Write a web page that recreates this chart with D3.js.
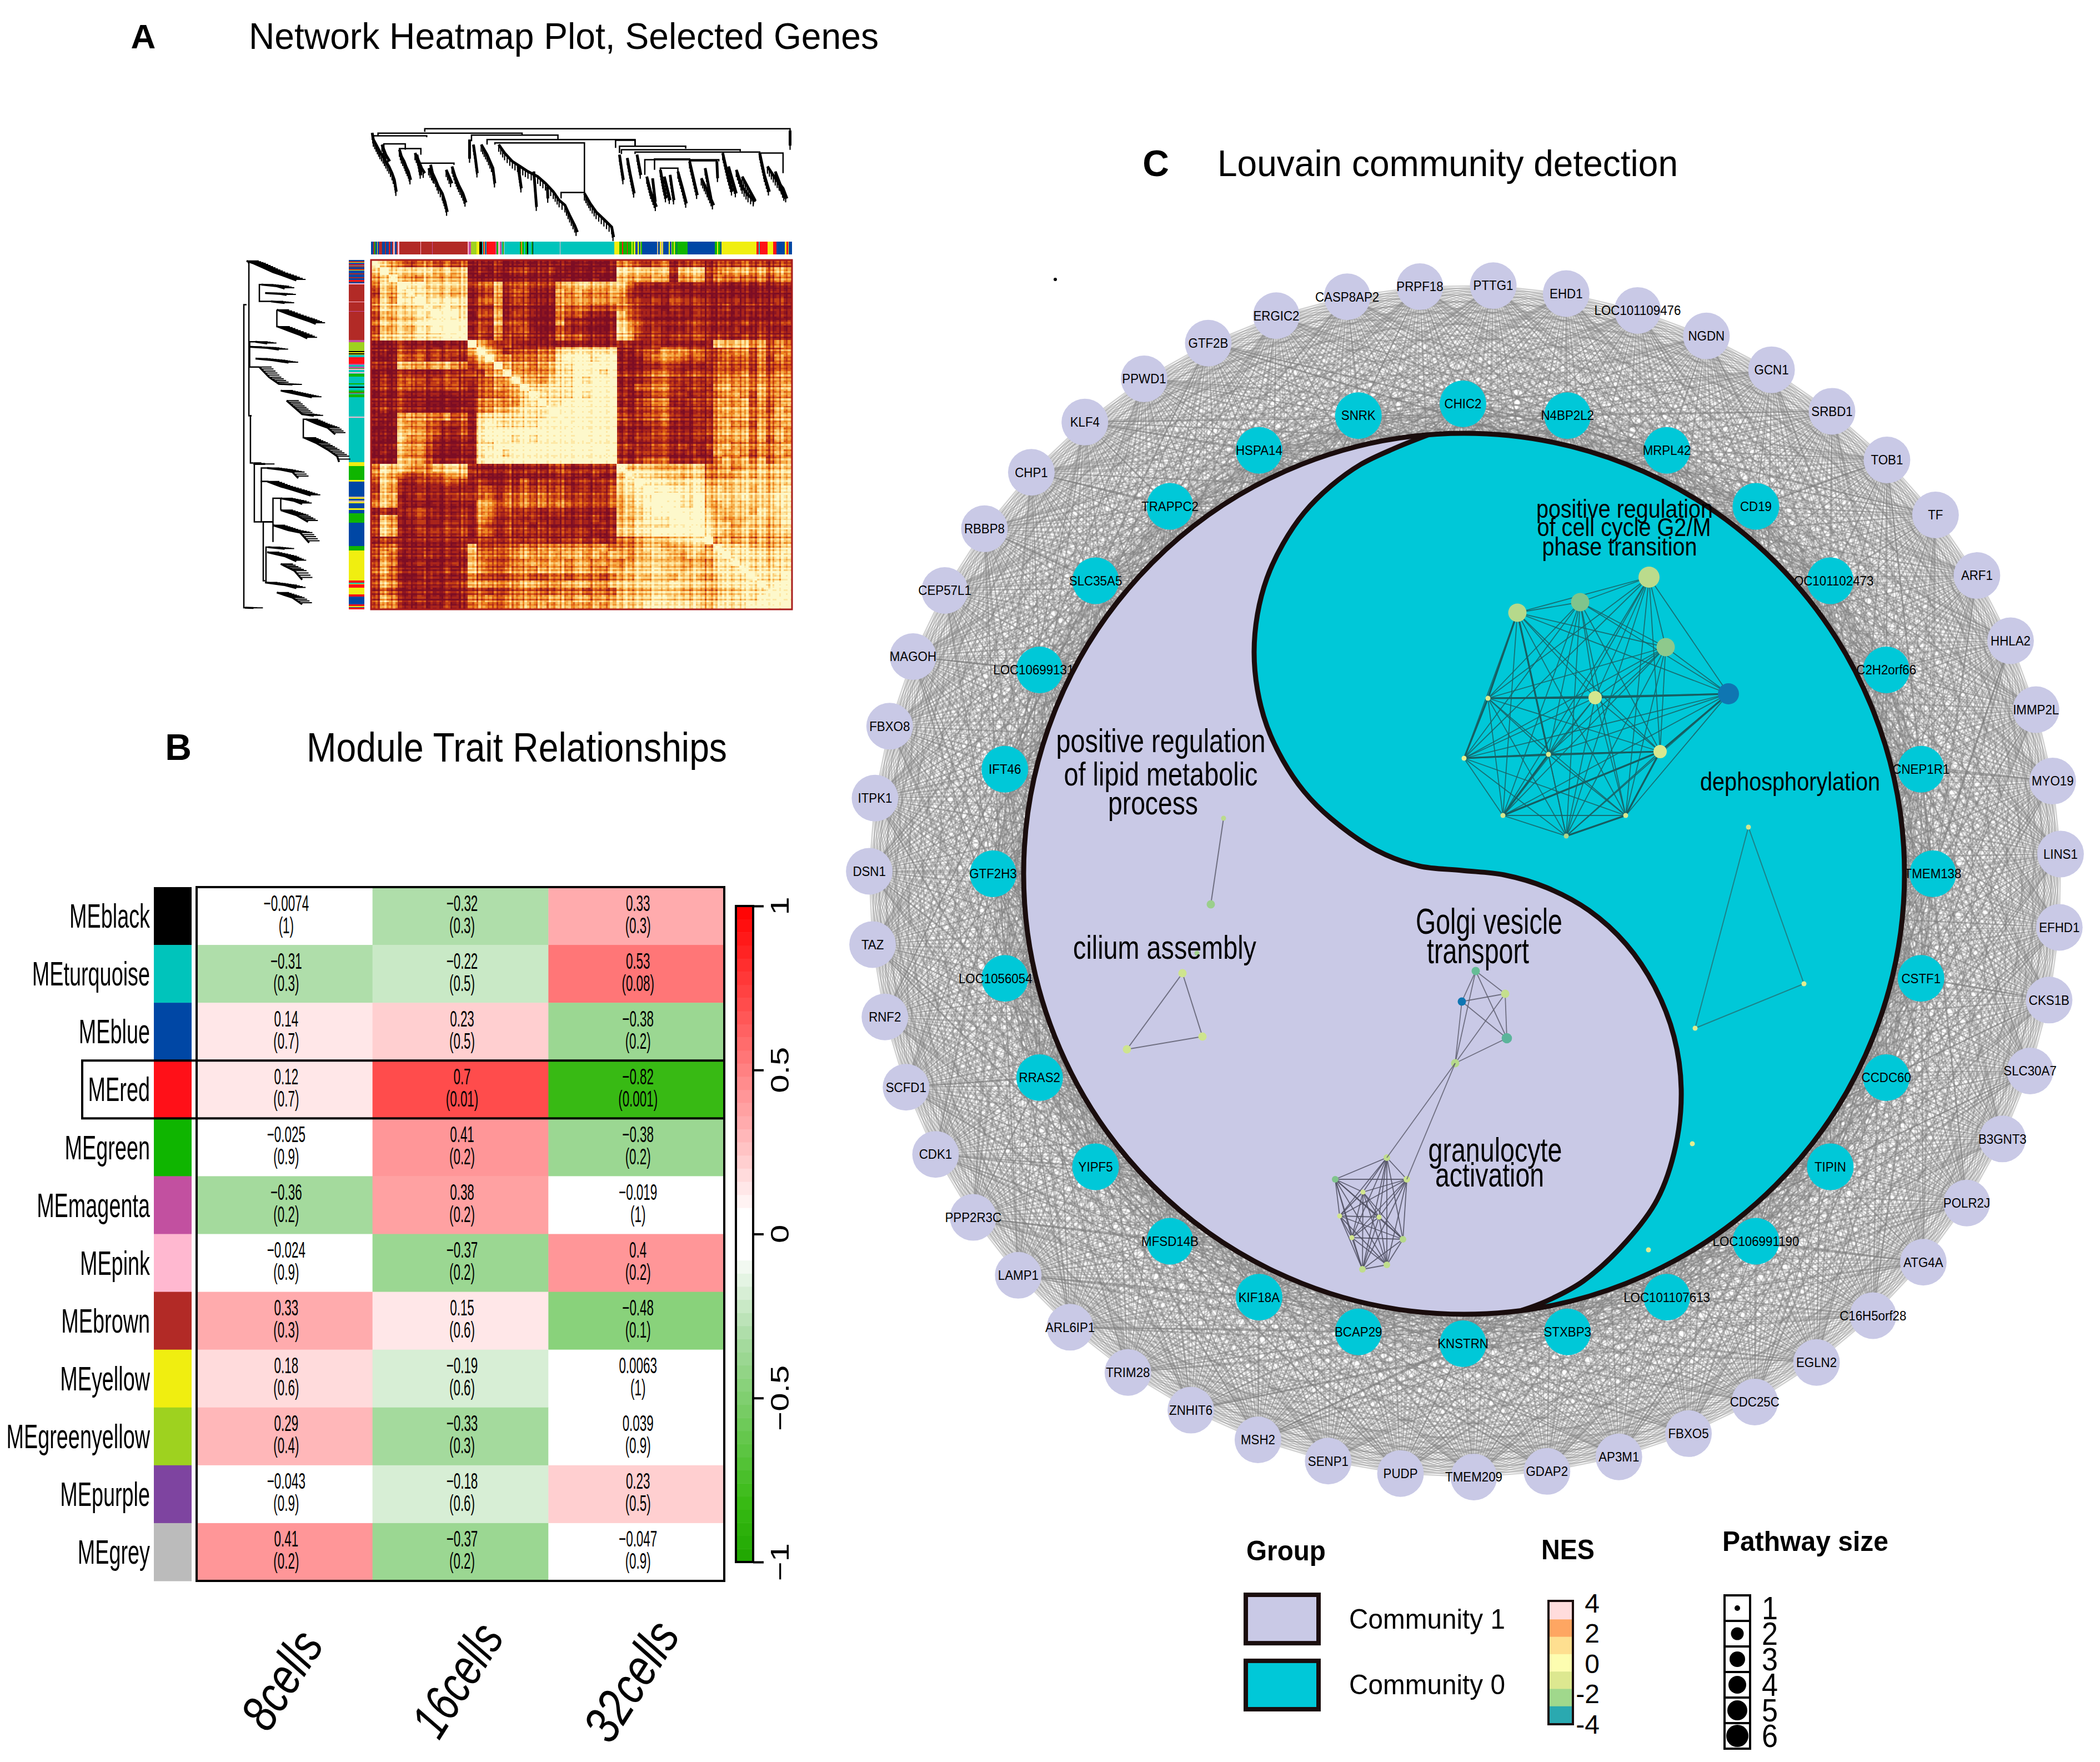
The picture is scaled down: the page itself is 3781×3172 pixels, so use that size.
<!DOCTYPE html>
<html><head><meta charset="utf-8"><style>html,body{margin:0;padding:0;background:#fff}svg{display:block}text{font-family:"Liberation Sans",Arial,sans-serif;fill:#000}</style>
<script src="https://d3js.org/d3.v7.min.js"></script></head><body><script>
// ---------- Panel B data ----------
const moduleNames=["MEblack","MEturquoise","MEblue","MEred","MEgreen","MEmagenta","MEpink","MEbrown","MEyellow","MEgreenyellow","MEpurple","MEgrey"];
const moduleColors=["#000000","#00c4bb","#0047a5","#ff1018","#0fb500","#c250a0","#ffb8d0","#b22a26","#f0ee10","#9ed21f","#7e44a0","#bbbbbb"];
const traits=["8cells","16cells","32cells"];
const corr8=["-0.0074","-0.31","0.14","0.12","-0.025","-0.36","-0.024","0.33","0.18","0.29","-0.043","0.41"];
const corr16=["-0.32","-0.22","0.23","0.7","0.41","0.38","-0.37","0.15","-0.19","-0.33","-0.18","-0.37"];
const corr32=["0.33","0.53","-0.38","-0.82","-0.38","-0.019","0.4","-0.48","0.0063","0.039","0.23","-0.047"];
const pval8=["1","0.3","0.7","0.7","0.9","0.2","0.9","0.3","0.6","0.4","0.9","0.2"];
const pval16=["0.3","0.5","0.5","0.01","0.2","0.2","0.2","0.6","0.6","0.3","0.6","0.2"];
const pval32=["0.3","0.08","0.2","0.001","0.2","1","0.2","0.1","1","0.9","0.5","0.9"];
const corrTicks=[-1,-0.5,0,0.5,1];
// ---------- Panel A data: coarse lower triangle of the TOM plot (0 dark .. 9 cream) ----------
const tomRows=["9","79","679","4769","37689","475889","5877889","36677889","476778999","3667688999","47777888999",
"101211101119","1103232323269","10143423221479","211665566542459","0102211122232569","12134323332234569",
"121332222321345569","0102111101113445679","11121100000145555789","121211000011456678889","1005655453417888888899",
"10165543223189888889999","000665431131899999999999","1007554211218999898999999","00165531001188999999999999","010655310011899899999999999","1006653101118999999999999999",
"58776557787211121121232122229","576433445662110211111221121179","3761122233212102131222112122789",
"26511111111133132323232121237889","366012111222341434343322222367889","5761110111116635454545433334678999","12112321112155232221221111116778999",
"265012111121541221211111121166788899","3760121122214313221211111121778888999","37611222223144132222222221127788999999","122011111111221221221122121144566677889",
"3451111111273334454555555564556776667759","35401121111644345655656656566566776576689","365012111217543455656656656556777776665889","4641111121275435555666566556677787767768889",
"35400121111533234433443444346676776776578889","365111111226554556655566655677777787776788889","2430111011133223444334443443666677766656778889","36511211111545355555665665657777887777678888999","355111112114543556565665565677788888876888899999"];
const tomPalette=["#7d0d24","#8f1620","#a9241b","#c23d16","#dc5f18","#ee8823","#f6ae4c","#fbcf7b","#fde8a6","#fdf8cb"];
// per-strand fine stripe offsets, 4 per coarse bin, read by eye (2 = neutral)
const tomStripes="213032412031342123021332"+"401322310243122304132213"+"041231204132021403123042"+"132041320421230412301324"+"132104231320142231034120"+"242132314223132123124213"+"301423120431204231420132"+"031421302413204123042132";
// ---------- Panel A colour bars ----------
const topBarNames="blue brown green blue yellow blue red brown blue brown blue red brown blue brown pink tan blue brown pink brown pink brown magenta brown pink magenta greenyellow yellow black turquoise red yellow blue turquoise red magenta green pink magenta turquoise green pink turquoise green red yellow green turquoise green black turquoise green black turquoise turquoise pink turquoise yellow green red green red green yellow green yellow blue yellow green blue yellow green blue blue tan blue yellow tan yellow blue yellow blue yellow green yellow green blue green green blue green yellow green blue yellow red turquoise red red yellow red blue yellow red yellow blue".split(" ");
const topBarSizes=[6,3,2,5,1,4,2,5,8,3,6,2,3,4,3,3,1,5,2,4,54,2,28,2,90,3,5,15,7,6,4,3,1,2,2,23,3,4,4,4,3,3,2,39,3,2,1,4,5,4,3,8,3,1,6,63,2,138,12,8,2,10,2,10,2,4,3,6,3,2,2,2,3,3,35,3,4,3,4,2,14,3,4,2,4,3,4,2,14,12,70,6,2,7,2,90,5,3,5,15,14,9,22,4,4,2,8];
const leftBarNames="blue brown yellow blue red turquoise brown blue brown yellow blue brown blue brown blue red brown blue pink brown pink brown magenta brown magenta greenyellow black yellow black yellow turquoise red magenta turquoise magenta green pink turquoise pink turquoise green turquoise green turquoise black turquoise green red turquoise green turquoise pink turquoise yellow green yellow blue tan yellow blue tan yellow blue yellow blue green blue green yellow red turquoise yellow red yellow red blue red yellow blue red".split(" ");
const leftBarSizes=[4,3,2,5,2,2,3,6,3,2,8,3,8,4,5,3,3,4,3,50,2,27,2,84,6,26,4,4,3,2,5,20,4,5,4,3,3,6,3,2,8,20,4,6,3,8,8,1,4,8,58,2,133,12,40,5,45,4,3,5,4,4,15,4,11,27,70,13,90,5,4,2,9,20,7,23,5,3,2,5];
const wgcnaColors={blue:"#0047a5",brown:"#b22a26",green:"#0fb500",yellow:"#f0ee10",red:"#ff1018",turquoise:"#00c4bb",black:"#000000",pink:"#ffb8d0",magenta:"#c250a0",greenyellow:"#9ed21f",tan:"#d2b48c"};
// ---------- Panel A dendrograms (readings in the picture's own units) ----------
const topClusters=[
[[385,65],[388,85],[395,100],[405,122],[413,135],[420,150],[428,165],[436,185],[442,205],[447,240]],
[[410,100],[420,130],[430,150]],[[500,130],[510,190]],[[530,170],[545,200]],[[575,175],[590,215]],
[[455,115],[460,135],[467,150],[472,165],[478,180],[484,205]],[[495,125],[505,150],[512,170],[520,185]],
[[535,160],[540,185],[548,205],[555,225],[565,245],[572,270],[578,300]],[[590,165],[598,195],[607,220],[618,245],[626,272]],
[[635,85],[635,142]],[[645,100],[650,140],[655,185]],[[665,100],[680,130],[695,170],[700,215]],
[[710,100],[725,125],[745,150],[765,165],[785,180],[810,195],[830,215],[850,240],[865,265],[880,280],[892,310],[905,340],[912,360]],
[[760,165],[768,230]],[[800,180],[807,285]],[[835,225],[836,260]],[[930,245],[945,275],[960,300],[980,322],[1000,345],[1005,375]],
[[1020,130],[1025,170],[1030,205]],[[1040,140],[1048,190],[1058,245]],[[1065,130],[1075,190]],[[1090,195],[1100,240],[1115,285]],[[1105,200],[1112,270]],
[[1125,175],[1132,220],[1140,260]],[[1135,195],[1150,265]],[[1150,190],[1155,230],[1160,265]],[[1170,180],[1182,230],[1192,275]],[[1200,150],[1210,200],[1220,250]],
[[1230,200],[1245,235],[1262,280]],[[1240,170],[1255,260]],[[1270,150],[1272,200]],[[1285,125],[1298,190],[1310,240]],[[1300,165],[1320,245]],[[1320,175],[1335,225],[1350,250],[1370,268]],[[1335,195],[1368,265]],
[[1380,125],[1392,190],[1405,240]],[[1400,165],[1420,200],[1440,230],[1450,260]],[[1420,180],[1445,255]],[[1458,58],[1458,103]]];
const topBrackets=[[520,1458,53,62,58],[400,770,66,75,72],[640,862,72,90,85],[385,525,74,80,78],[680,1060,85,100,105],[1010,1060,87,110,105],[1020,1190,105,125,112],[1025,1330,115,128,120],[1060,1380,122,128,128],[1085,1275,145,190,150],[1110,1200,143,175,150],[1200,1270,148,152,155],[415,470,98,125,115],[455,510,112,125,130],[505,595,155,160,160],[700,930,95,100,245],[870,930,242,260,248],[1125,1170,170,180,185],[1380,1440,125,140,185]];
const leftClusters=[
[[62,445],[80,452],[105,465],[130,478],[160,490],[190,503]],[[100,515],[140,520],[160,527]],[[110,540],[150,543],[165,546]],
[[125,565],[160,570]],[[140,590],[170,603],[200,615],[225,625],[240,632]],[[142,640],[170,652],[200,665],[218,675]],
[[85,685],[115,690]],[[70,700],[115,703],[145,708]],[[85,735],[130,740],[170,747]],[[95,760],[120,790],[145,810],[180,812]],
[[150,830],[190,840],[230,850]],[[165,860],[185,880],[205,900],[235,905]],[[215,915],[245,930],[270,940],[290,960]],[[210,970],[240,985],[270,1005],[295,1025],[300,1042]],
[[80,1048],[110,1048]],[[115,1060],[150,1065],[180,1072],[195,1090]],[[115,1100],[150,1115],[180,1125],[227,1142]],[[150,1150],[185,1158],[205,1167]],
[[150,1185],[190,1200],[220,1220]],[[130,1230],[170,1245],[200,1252],[223,1282]],[[118,1295],[160,1300]],[[115,1310],[160,1322],[190,1337]],
[[150,1345],[185,1365],[205,1392]],[[110,1400],[160,1408],[190,1417]],[[140,1430],[180,1445],[205,1465]],[[58,1475],[80,1476]]];
const leftBrackets=[[575,1475,55,62,60],[450,905,68,65,75],[905,1045,72,75,80],[1045,1220,82,100,100],[1100,1220,100,115,130],[1220,1395,105,130,110],[1150,1280,130,150,130],[640,590,140,142,140],[515,565,95,100,125],[915,970,208,215,210],[685,760,70,85,95],[1060,1100,100,115,115],[1150,1185,150,150,150],[1295,1400,112,118,110]];
// ---------- Panel C data ----------
const outerGenes=["PTTG1","EHD1","LOC101109476","NGDN","GCN1","SRBD1","TOB1","TF","ARF1","HHLA2","IMMP2L","MYO19","LINS1","EFHD1","CKS1B","SLC30A7","B3GNT3","POLR2J","ATG4A","C16H5orf28","EGLN2","CDC25C","FBXO5","AP3M1","GDAP2","TMEM209","PUDP","SENP1","MSH2","ZNHIT6","TRIM28","ARL6IP1","LAMP1","PPP2R3C","CDK1","SCFD1","RNF2","TAZ","DSN1","ITPK1","FBXO8","MAGOH","CEP57L1","RBBP8","CHP1","KLF4","PPWD1","GTF2B","ERGIC2","CASP8AP2","PRPF18"];
const innerGenes=["CHIC2","N4BP2L2","MRPL42","CD19","LOC101102473","C2H2orf66","CNEP1R1","TMEM138","CSTF1","CCDC60","TIPIN","LOC106991190","LOC101107613","STXBP3","KNSTRN","BCAP29","KIF18A","MFSD14B","YIPF5","RRAS2","LOC1056054","GTF2H3","IFT46","LOC10699131","SLC35A5","TRAPPC2","HSPA14","SNRK"];
const labelNudge={LOC1056054:-17,LOC10699131:-11};
const heavyEdges=[["KLF4","HSPA14"],["CHP1","TRAPPC2"],["GTF2B","CD19"],["MAGOH","LOC10699131"],["RBBP8","SLC35A5"],["MSH2","KNSTRN"],["ZNHIT6","STXBP3"],["PPP2R3C","MFSD14B"],["LAMP1","KIF18A"],["ARL6IP1","BCAP29"],["TOB1","CD19"],["MYO19","CNEP1R1"],["CKS1B","CSTF1"],["HHLA2","TMEM138"],["ATG4A","LOC106991190"],["CDK1","YIPF5"],["SCFD1","RRAS2"]];
const communityNames=["Community 1","Community 0"];
const nesBins=[[3,"#ffdcdc"],[2,"#fea662"],[1,"#fedf90"],[0,"#fdfdb0"],[-1,"#dde890"],[-2,"#a0d88c"],[-3,"#2aa9b0"]];
const nesTicks=[4,2,0,-2,-4];
const pathwaySizes=[1,2,3,4,5,6];
// Enrichment map nodes: [layout x, layout y, NES, size]
const g2mNodes=[[2732,1103,-1.2,4],[2845,1084,-2,4],[2969,1039,-1.1,5],[2999,1165,-1.8,4],[3112,1249,-4.2,5],[2872,1256,-0.6,3],[2679,1257,-0.3,1],[2636,1365,0,1],[2788,1358,-0.4,1],[2989,1353,-0.5,3],[2706,1468,-0.5,1],[2820,1505,-1.3,1],[2927,1468,-0.5,1]];
const g2mBold=[[0,6],[6,5],[5,4],[6,7],[7,8],[8,9],[9,4],[8,10],[0,8],[10,9],[9,12],[12,11]];
const dephosNodes=[[3148,1489,-0.6,1],[3248,1771,-0.2,1],[3052,1851,-0.3,1]];
const loneNodes=[[3047,2059,-0.1,1],[2968,2250,-0.2,1],[2155,1716,-1.5,1]];
const lipidNodes=[[2203,1473,-1.1,1],[2180,1628,-1.6,2]];
const ciliumNodes=[[2129,1752,-0.7,2],[2165,1866,-0.7,2],[2029,1889,-0.7,2]];
const golgiNodes=[[2657,1748,-2.6,2],[2710,1789,-0.9,2],[2632,1803,-4.2,2],[2713,1869,-2.8,2.4],[2620,1914,-1.2,2]];
const granuloNodes=[[2497,2084,-1,1.6],[2404,2123,-2,1.6],[2533,2123,-0.8,1.6],[2454,2146,-0.6,1],[2412,2189,-0.6,1],[2483,2191,-0.6,1],[2434,2228,-0.6,1],[2526,2231,-1.2,1.6],[2453,2285,-1,1.6],[2497,2277,-1,1.6]];
const golgiLinks=[[4,0],[4,1],[4,2],[4,3],[0,1],[0,2],[0,3],[1,2],[1,3],[2,3]];
const bridgeLinks=[[4,0],[4,2]];
const sCurve=[[2572,782.6],[2511,807],[2450,836],[2396,875],[2348,923],[2310,979],[2281,1041],[2264,1106],[2258,1174],[2264,1242],[2281,1307],[2310,1369],[2348,1425],[2396,1473],[2479,1531],[2555,1559],[2632,1567],[2708,1575],[2785,1598],[2861,1639],[2928,1700],[2979,1776],[3014,1866],[3027,1961],[3017,2063],[2984,2159],[2928,2235],[2851,2306],[2785,2342],[2739,2359.3]];
const captions=[["positive regulation",2090,1333,377,60],["of lipid metabolic",2090,1393,349,60],["process",2076,1445,162,60],
["positive regulation",2925,916,318,46],["of cell cycle G2/M",2924,949,313,46],["phase transition",2916,984,279,46],
["dephosphorylation",3223,1407,324,46],["Golgi vesicle",2681,1659,264,64],["transport",2661,1712,184,64],
["cilium assembly",2097,1705,330,60],["granulocyte",2692,2069,241,62],["activation",2682,2114,196,62]];

// ---------- page ----------
const W=3781,H=3172;
const svg=d3.select("body").append("svg").attr("width",W).attr("height",H).attr("viewBox",[0,0,W,H]);
function label(g,s,x,y,o={}){
 const t=g.append("text").text(s).attr("font-size",o.size||40).attr("text-anchor",o.anchor||"middle").attr("dominant-baseline","central")
  .attr("font-weight",o.weight||"normal").attr("font-style",o.style||"normal");
 if(o.sx||o.rot!==undefined){t.attr("transform",`translate(${x},${y}) rotate(${o.rot||0}) scale(${o.sx||1},1)`);}else{t.attr("x",x).attr("y",y);}
 if(o.w){t.attr("textLength",o.w).attr("lengthAdjust","spacingAndGlyphs");}
 return t;
}
const titles=svg.append("g");
label(titles,"A",258,65,{size:62,weight:"bold"});
label(titles,"Network Heatmap Plot, Selected Genes",448,65,{size:66,anchor:"start",w:1134});
label(titles,"B",321,1345,{size:66,weight:"bold"});
label(titles,"Module Trait Relationships",552,1345,{size:74,anchor:"start",w:757});
label(titles,"C",2081,294,{size:66,weight:"bold"});
label(titles,"Louvain community detection",2192,294,{size:66,anchor:"start",w:829});
svg.append("circle").attr("cx",1900).attr("cy",503).attr("r",3).attr("fill","#000");

// ---------- Panel A heat map ----------
const nFine=tomStripes.length, nCoarse=tomRows.length, k=nFine/nCoarse;
const hx=d3.scaleBand(d3.range(nFine),[668,1426]), hy=d3.scaleBand(d3.range(nFine),[468,1097]);
const stripe=d3.scaleLinear([0,4],[-1.3,1.3]);
const coarse=(i,j)=>{const a=Math.max(i,j),b=Math.min(i,j);return +(tomRows[a][b]||"5");};
const tomColor=d3.scaleQuantize([-0.5,9.5],tomPalette);
const paths=new Map(tomPalette.map(c=>[c,d3.path()]));
for(let r=0;r<nFine;r++)for(let c=0;c<nFine;c++){
 const base=coarse(Math.floor(r/k),Math.floor(c/k));
 const wob=stripe(+tomStripes[r])+stripe(+tomStripes[c]);
 let v=base+(base<9?wob:wob*0.4);
 if(r===c)v=9.4;
 paths.get(tomColor(Math.max(-0.4,Math.min(9.4,v)))).rect(hx(c),hy(r),hx.bandwidth()+0.5,hy.bandwidth()+0.5);
}
svg.append("g").attr("shape-rendering","crispEdges").selectAll("path").data(tomPalette).join("path").attr("fill",d=>d).attr("d",d=>paths.get(d).toString());
svg.append("rect").attr("x",668).attr("y",468).attr("width",758).attr("height",629).attr("fill","none").attr("stroke","#a81c1c").attr("stroke-width",3);
function stack(names,sizes){let acc=0;return names.map((n,i)=>{const s=acc;acc+=sizes[i]||0;return {n,s,e:acc};});}
const topStack=stack(topBarNames,topBarSizes), leftStack=stack(leftBarNames,leftBarSizes);
const tbx=d3.scaleLinear([0,topStack[topStack.length-1].e],[668,1426]), lby=d3.scaleLinear([0,leftStack[leftStack.length-1].e],[468,1097]);
svg.append("g").attr("shape-rendering","crispEdges").selectAll("rect").data(topStack).join("rect").attr("x",d=>tbx(d.s)).attr("width",d=>tbx(d.e)-tbx(d.s)).attr("y",435).attr("height",23).attr("fill",d=>wgcnaColors[d.n]);
svg.append("g").attr("shape-rendering","crispEdges").selectAll("rect").data(leftStack).join("rect").attr("y",d=>lby(d.s)).attr("height",d=>lby(d.e)-lby(d.s)).attr("x",628).attr("width",28).attr("fill",d=>wgcnaColors[d.n]);
const tdx=d3.scaleLinear([382,1463],[668,1426]), tdy=d3.scaleLinear([50,375],[230,427]);
const ldx=d3.scaleLinear([55,315],[439,621]), ldy=d3.scaleLinear([442,1480],[468,1097]);
// leaf comb: short hairs hung on every trunk, drawn along the read polyline
function comb(pts,dx,dy,step){
 const p=d3.path();
 for(let i=1;i<pts.length;i++){
  const [x0,y0]=pts[i-1],[x1,y1]=pts[i],len=Math.hypot(x1-x0,y1-y0),n=Math.max(1,Math.round(len/step));
  for(let s=0;s<n;s++){const x=x0+(x1-x0)*s/n,y=y0+(y1-y0)*s/n;p.moveTo(x,y);p.lineTo(x+dx,y+dy);}
 }
 return p.toString();
}
const topG=svg.append("g").attr("fill","none").attr("stroke","#000");
const lineT=d3.line().x(d=>tdx(d[0])).y(d=>tdy(d[1]));
topG.selectAll("path.c").data(topClusters).join("path").attr("class","c").attr("d",lineT).attr("stroke-width",5);
topG.selectAll("path.h").data(topClusters).join("path").attr("class","h").attr("stroke-width",2.2).attr("d",d=>comb(d.map(p=>[tdx(p[0]),tdy(p[1])]),0,13,6));
topG.selectAll("path.b").data(topBrackets).join("path").attr("class","b").attr("stroke-width",2.5)
 .attr("d",d=>`M${tdx(d[0])},${tdy(d[3])}V${tdy(d[2])}H${tdx(d[1])}V${tdy(d[4])}`);
const leftG=svg.append("g").attr("fill","none").attr("stroke","#000");
const lineL=d3.line().x(d=>ldx(d[0])).y(d=>ldy(d[1]));
leftG.selectAll("path.c").data(leftClusters).join("path").attr("class","c").attr("d",lineL).attr("stroke-width",3.5);
leftG.selectAll("path.h").data(leftClusters).join("path").attr("class","h").attr("stroke-width",2).attr("d",d=>comb(d.map(p=>[ldx(p[0]),ldy(p[1])]),22,0,5));
leftG.selectAll("path.b").data(leftBrackets).join("path").attr("class","b").attr("stroke-width",2.5)
 .attr("d",d=>`M${ldx(d[3])},${ldy(d[0])}H${ldx(d[2])}V${ldy(d[1])}H${ldx(d[4])}`);

// ---------- Panel B ----------
const bx=d3.scaleBand(traits,[354,1304]), by=d3.scaleBand(moduleNames,[1597,2846]);
const corrRamp=d3.scaleLinear([-1,-0.82,-0.32,-0.06,0.06,0.33,0.7,1],["#1fa600","#38ba14","#a8dba3","#ffffff","#ffffff","#ffaeb0","#ff4c4c","#ff0000"]);
const corrBins=d3.scaleQuantize([-1,1],d3.range(50).map(i=>corrRamp(-1+(i+0.5)/25)));
const tb=svg.append("g");
const corrCols=[corr8,corr16,corr32], pCols=[pval8,pval16,pval32];
moduleNames.forEach((m,i)=>{
 tb.append("rect").attr("x",277).attr("width",68).attr("y",by(m)).attr("height",by.bandwidth()+.5).attr("fill",moduleColors[i]);
 label(tb,m,270,by(m)+by.bandwidth()/2,{size:62,anchor:"end",sx:0.61});
 traits.forEach((t,c)=>{
  const v=corrCols[c][i];
  tb.append("rect").attr("x",bx(t)).attr("y",by(m)).attr("width",bx.bandwidth()+.5).attr("height",by.bandwidth()+.5).attr("fill",corrBins(+v));
  const cx=bx(t)+bx.bandwidth()/2+3;
  label(tb,v.replace("-","\u2212"),cx,by(m)+29,{size:40,sx:0.56});
  label(tb,"("+pCols[c][i]+")",cx,by(m)+69,{size:40,sx:0.56});
 });
});
tb.append("rect").attr("x",354).attr("y",1597).attr("width",950).attr("height",1249).attr("fill","none").attr("stroke","#000").attr("stroke-width",4);
tb.append("rect").attr("x",148).attr("y",by("MEred")).attr("width",1156).attr("height",by.bandwidth()).attr("fill","none").attr("stroke","#000").attr("stroke-width",4);
const traitLabelPos=[[507,3024,190],[823,3024,222],[1136,3026,236]];
traits.forEach((t,i)=>label(tb,t,traitLabelPos[i][0],traitLabelPos[i][1],{size:92,style:"italic",rot:-57.5,w:traitLabelPos[i][2]}));
const cy=d3.scaleLinear([-1,1],[2812,1631]);
const barG=svg.append("g");
barG.selectAll("rect").data(d3.range(50)).join("rect").attr("x",1325).attr("width",31).attr("y",i=>cy(-1+(i+1)/25)).attr("height",(cy(-1)-cy(1))/50+.5).attr("fill",i=>corrBins(-1+(i+.5)/25));
barG.append("rect").attr("x",1325).attr("y",1631).attr("width",31).attr("height",1181).attr("fill","none").attr("stroke","#000").attr("stroke-width",4);
const ax=barG.append("g").attr("transform","translate(1356,0)").call(d3.axisRight(cy).tickValues(corrTicks).tickSize(19).tickFormat(""));
ax.selectAll("line").attr("stroke","#000").attr("stroke-width",4);
ax.select(".domain").remove();
corrTicks.forEach(v=>label(barG,String(v).replace("-","\u2212"),1404,cy(v),{size:46,rot:-90,sx:1.3}));

// ---------- Panel C ring network ----------
const net=svg.append("g");
const outerAngle=d3.scaleLinear([0,outerGenes.length],[2.7,362.7]);
const innerAngle=d3.scaleLinear([0,innerGenes.length],[0,360]);
const polar=(cx,cy0,r,a)=>[cx+r*Math.sin(a*Math.PI/180),cy0-r*Math.cos(a*Math.PI/180)];
const outerNodes=outerGenes.map((g,i)=>{const p=polar(2638,1586,1073,outerAngle(i));return {g,x:p[0],y:p[1],fill:"#c9c9e6"};});
const innerNodes=innerGenes.map((g,i)=>{const p=polar(2634,1573,846,innerAngle(i));return {g,x:p[0],y:p[1],fill:"#00c8d8"};});
const ring=outerNodes.concat(innerNodes);
const allPairs=a=>{const o=[];for(let i=0;i<a.length;i++)for(let j=i+1;j<a.length;j++)o.push([a[i],a[j]]);return o;};
net.append("g").attr("stroke","#808080").attr("stroke-opacity",0.36).attr("stroke-width",2.4).selectAll("line").data(allPairs(ring)).join("line")
 .attr("x1",d=>d[0].x).attr("y1",d=>d[0].y).attr("x2",d=>d[1].x).attr("y2",d=>d[1].y);
const byGene=new Map(ring.map(n=>[n.g,n]));
net.append("g").attr("stroke","#777").attr("stroke-opacity",0.35).attr("stroke-width",3.5).selectAll("line").data(heavyEdges).join("line")
 .attr("x1",d=>byGene.get(d[0]).x).attr("y1",d=>byGene.get(d[0]).y).attr("x2",d=>byGene.get(d[1]).x).attr("y2",d=>byGene.get(d[1]).y);
net.append("g").selectAll("circle").data(ring).join("circle").attr("cx",d=>d.x).attr("cy",d=>d.y).attr("r",42).attr("fill",d=>d.fill);
ring.forEach(d=>label(net,d.g,d.x+(labelNudge[d.g]||0),d.y,{size:24,sx:0.93}));
const C={x:2636,y:1573,r:793};
net.append("circle").attr("cx",C.x).attr("cy",C.y).attr("r",C.r).attr("fill","#c9c9e6");
const sPath=d3.line().curve(d3.curveCatmullRom.alpha(0.5))(sCurve);
const tip1=sCurve[0], tip2=sCurve[sCurve.length-1];
net.append("path").attr("d",`M${tip2} A${C.r},${C.r} 0 0 0 ${tip1} `+sPath.replace(/^M[^C]*/,"")).attr("fill","#00c8d8");
net.append("path").attr("d",sPath).attr("fill","none").attr("stroke","#1a0d0d").attr("stroke-width",9);
net.append("circle").attr("cx",C.x).attr("cy",C.y).attr("r",C.r).attr("fill","none").attr("stroke","#1a0d0d").attr("stroke-width",9);
const nesFill=d3.scaleLinear([-4.2,-2.6,-2,-1.2,-0.5,0],["#0f76b2","#66bd96","#80c48c","#b6d98b","#d8e88f","#e8f090"]);
const rScale=d3.scaleLinear([1,1.6,2,3,4,5],[4.5,6,7.5,12,16.5,19]);
function cluster(nodes,links,color,w){
 const g=net.append("g");
 g.selectAll("line").data(links).join("line").attr("x1",d=>d[0][0]).attr("y1",d=>d[0][1]).attr("x2",d=>d[1][0]).attr("y2",d=>d[1][1]).attr("stroke",color).attr("stroke-width",w).attr("stroke-opacity",0.85);
 g.selectAll("circle").data(nodes).join("circle").attr("cx",d=>d[0]).attr("cy",d=>d[1]).attr("r",d=>rScale(d[3])).attr("fill",d=>nesFill(d[2]));
}
net.append("g").attr("stroke","#14565a").attr("stroke-width",3.2).selectAll("line").data(g2mBold).join("line")
 .attr("x1",d=>g2mNodes[d[0]][0]).attr("y1",d=>g2mNodes[d[0]][1]).attr("x2",d=>g2mNodes[d[1]][0]).attr("y2",d=>g2mNodes[d[1]][1]);
cluster(g2mNodes,allPairs(g2mNodes),"#1a5f63",1.8);
cluster(dephosNodes,allPairs(dephosNodes),"#21757a",2);
cluster(loneNodes,[],"#000",1);
cluster(lipidNodes,allPairs(lipidNodes),"#5f5f70",2);
cluster(ciliumNodes,allPairs(ciliumNodes),"#5f5f70",2);
cluster(golgiNodes,golgiLinks.map(l=>[golgiNodes[l[0]],golgiNodes[l[1]]]),"#5f5f70",1.8);
cluster(granuloNodes,allPairs(granuloNodes),"#4f4f60",1.8);
cluster([],bridgeLinks.map(l=>[golgiNodes[4],granuloNodes[l[1]]]),"#5f5f70",1.8);
captions.forEach(c=>label(net,c[0],c[1],c[2],{size:c[4],w:c[3]}));

// ---------- Legends ----------
const lg=svg.append("g");
label(lg,"Group",2244,2792,{size:50,weight:"bold",anchor:"start",w:143});
label(lg,"NES",2775,2790,{size:50,weight:"bold",anchor:"start",w:96});
label(lg,"Pathway size",3101,2775,{size:50,weight:"bold",anchor:"start",w:299});
const swY=d3.scaleBand(communityNames,[2867,3081]).paddingInner(0.2);
communityNames.forEach((n,i)=>{
 lg.append("rect").attr("x",2243).attr("y",swY(n)+4).attr("width",131).attr("height",swY.bandwidth()-8).attr("fill",i?"#00c8d8":"#c9c9e6").attr("stroke","#1a0d0d").attr("stroke-width",8);
 label(lg,n,2429,swY(n)+swY.bandwidth()/2,{size:50,anchor:"start",w:281});
});
const nesY=d3.scaleBand(nesBins.map(d=>d[0]),[2884,3103]);
lg.selectAll("rect.nes").data(nesBins).join("rect").attr("class","nes").attr("x",2790).attr("width",40).attr("y",d=>nesY(d[0])).attr("height",nesY.bandwidth()+.5).attr("fill",d=>d[1]);
lg.append("rect").attr("x",2788).attr("y",2882).attr("width",44).attr("height",222).attr("fill","none").attr("stroke","#1a0d0d").attr("stroke-width",4);
const nesT=d3.scaleLinear([4,-4],[2886,3104]);
nesTicks.forEach(v=>label(lg,String(v),2880,nesT(v),{size:48,anchor:"end"}));
const psY=d3.scaleBand(pathwaySizes,[2872,3148]);
const psR=d3.scaleOrdinal(pathwaySizes,[5,11.5,14,16,18,20]);
pathwaySizes.forEach(v=>{
 lg.append("rect").attr("x",3105).attr("y",psY(v)).attr("width",46).attr("height",psY.bandwidth()).attr("fill","#fff").attr("stroke","#000").attr("stroke-width",4);
 lg.append("circle").attr("cx",3128).attr("cy",psY(v)+psY.bandwidth()/2).attr("r",psR(v)).attr("fill","#000");
 label(lg,String(v),3172,psY(v)+psY.bandwidth()/2,{size:58,anchor:"start",sx:0.9});
});
</script></body></html>
